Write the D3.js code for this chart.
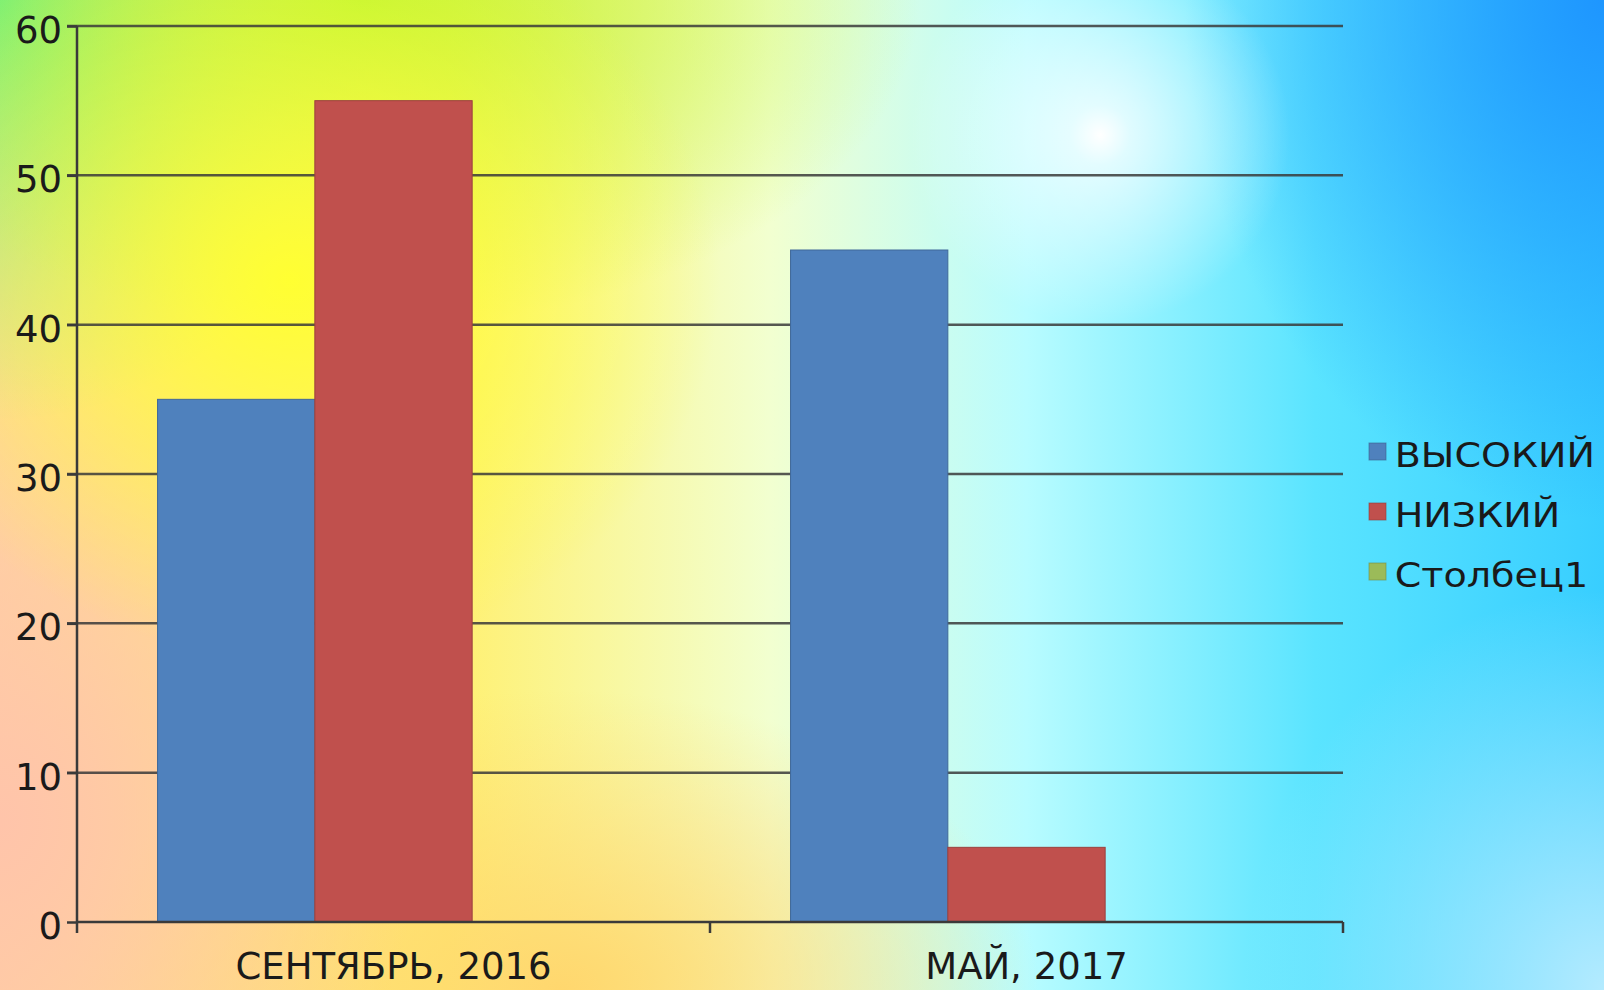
<!DOCTYPE html>
<html lang="ru">
<head>
	<meta charset="UTF-8">
	<title>Уровни</title>
	<style>
		html, body { margin: 0; padding: 0; }
		body {
			width: 1604px;
			height: 990px;
			overflow: hidden;
			background:
				radial-gradient(circle at 1100px 135px, rgba(255,255,255,1) 0, rgba(255,255,255,0.7) 30px, rgba(210,255,255,0) 190px),
				radial-gradient(ellipse 430px 380px at 290px 280px, rgba(255,255,50,1) 0, rgba(255,255,60,0) 100%),
				radial-gradient(ellipse 560px 330px at 360px 0px, rgba(190,245,50,1) 0, rgba(200,245,60,0) 100%),
				radial-gradient(ellipse 380px 420px at 0px 0px, rgba(95,238,150,1) 0, rgba(120,240,140,0) 100%),
				radial-gradient(ellipse 420px 460px at 0px 820px, rgba(255,196,170,1) 0, rgba(255,196,170,0) 100%),
				radial-gradient(ellipse 480px 300px at 560px 990px, rgba(255,215,110,1) 0, rgba(255,220,120,0) 100%),
				radial-gradient(ellipse 420px 520px at 1604px 0px, rgba(30,150,255,1) 0, rgba(40,170,255,0) 100%),
				radial-gradient(ellipse 360px 400px at 1604px 990px, rgba(180,235,255,1) 0, rgba(180,235,255,0) 100%),
				linear-gradient(to right, #ffd4a0 0%, #fff070 28%, #f2ffd0 48%, #b8fcff 64%, #5ae4ff 82%, #38ceff 100%);
		}
		svg { position: absolute; left: 0; top: 0; }
		.Axis text {
			font-family: "DejaVu Sans", sans-serif;
			fill: #1a1a1a;
		}
		.Axis path, .Axis line { stroke: #3a3a3a; stroke-width: 2.5; }
		.grid line { stroke: #3a3a3a; stroke-width: 2.5; stroke-opacity: 0.85; }
		.legend text {
			font-family: "DejaVu Sans", sans-serif;
			font-size: 34px;
			fill: #1a1a1a;
		}
	</style>
	<script src="https://d3js.org/d3.v7.min.js"></script>
</head>
<body>
	<script type="text/javascript">

		// data
		var categories = ["СЕНТЯБРЬ, 2016", "МАЙ, 2017"];
		var seriesNames = ["ВЫСОКИЙ", "НИЗКИЙ", "Столбец1"];
		var vysokiy = [35, 45];
		var nizkiy = [55, 5];
		var stolbec1 = [null, null];
		var yTicks = [0, 10, 20, 30, 40, 50, 60];
		var colors = ["#4f81bd", "#c0504d", "#9bbb59"];

		var seriesValues = [vysokiy, nizkiy, stolbec1];
		var dataset = categories.map((c, i) => ({
			cat: c,
			vals: seriesNames.map((s, j) => ({ name: s, value: seriesValues[j][i], color: colors[j] }))
		}));

		const w = 1604,
			  h = 990;
		const mLeft = 77, mRight = 1343, mTop = 26, mBottom = 922;

		const svg = d3.select("body")
			.append("svg")
			.attr("width", w)
			.attr("height", h);

		var xScale = d3.scaleBand()
			.domain(categories)
			.range([mLeft, mRight])
			.padding(0);

		var x1 = d3.scaleBand()
			.domain(seriesNames)
			.range([0, xScale.bandwidth()])
			.paddingInner(0)
			.paddingOuter(0.512);

		var yScale = d3.scaleLinear()
			.domain([0, 60])
			.range([mBottom, mTop]);

		// gridlines
		svg.append("g").attr("class", "grid")
			.selectAll("line")
			.data(yTicks.filter(d => d > 0))
			.enter().append("line")
			.attr("x1", mLeft - 10)
			.attr("x2", mRight)
			.attr("y1", d => yScale(d))
			.attr("y2", d => yScale(d));

		// bars
		svg.append("g").selectAll("g")
			.data(dataset).enter()
			.append("g")
			.attr("transform", d => "translate(" + xScale(d.cat) + ",0)")
			.selectAll("rect")
			.data(d => d.vals.filter(v => v.value != null))
			.enter().append("rect")
			.attr("x", d => x1(d.name))
			.attr("width", x1.bandwidth())
			.attr("y", d => yScale(d.value))
			.attr("height", d => yScale(0) - yScale(d.value))
			.attr("fill", d => d.color)
			.attr("stroke", d => d3.color(d.color).darker(0.6))
			.attr("stroke-width", 1);

		// y axis
		var yAxis = d3.axisLeft(yScale).tickValues(yTicks).tickSize(10).tickPadding(5);
		var gy = svg.append("g")
			.attr("class", "Axis y")
			.attr("transform", "translate(" + mLeft + ",0)")
			.call(yAxis);
		gy.select(".domain").remove();
		gy.selectAll("text").attr("font-size", 37).attr("dy", "0.45em");
		gy.append("line")
			.attr("x1", 0).attr("x2", 0)
			.attr("y1", mTop).attr("y2", mBottom + 11);

		// x axis
		var xAxis = d3.axisBottom(xScale).tickSize(0).tickPadding(31);
		var gx = svg.append("g")
			.attr("class", "Axis x")
			.attr("transform", "translate(0," + mBottom + ")")
			.call(xAxis);
		gx.select(".domain").attr("d", "M" + mLeft + ",0H" + mRight);
		gx.selectAll("text").attr("font-size", 37);
		gx.selectAll(".cat-tick")
			.data(categories.slice(1).concat(["end"]))
			.enter().append("line")
			.attr("class", "cat-tick")
			.attr("x1", (d, i) => i < categories.length - 1 ? xScale(d) : mRight)
			.attr("x2", (d, i) => i < categories.length - 1 ? xScale(d) : mRight)
			.attr("y1", 0).attr("y2", 11);

		// legend
		var legend = svg.append("g").attr("class", "legend")
			.attr("transform", "translate(1369,443)");
		var item = legend.selectAll("g")
			.data(seriesNames).enter()
			.append("g")
			.attr("transform", (d, i) => "translate(0," + i * 60 + ")");
		item.append("rect")
			.attr("width", 17).attr("height", 17)
			.attr("fill", (d, i) => colors[i])
			.attr("stroke", (d, i) => d3.color(colors[i]).darker(0.8))
			.attr("stroke-opacity", 0.6);
		item.append("text")
			.attr("x", 23)
			.attr("y", 24)
			.attr("transform", "scale(1.12,1)")
			.text(d => d);

	</script>
</body>
</html>
